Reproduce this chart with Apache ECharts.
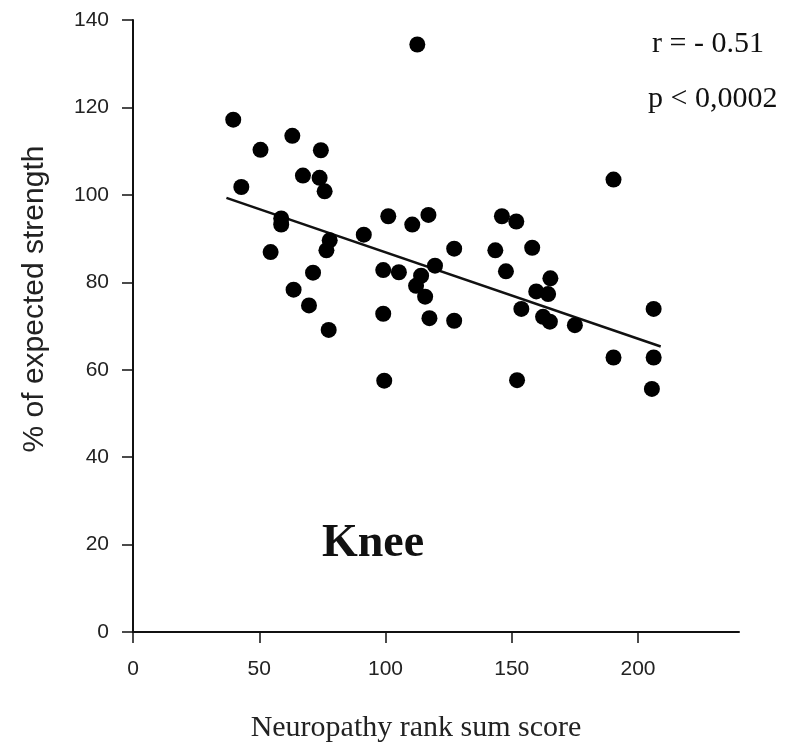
<!DOCTYPE html>
<html>
<head>
<meta charset="utf-8">
<script src="https://cdn.jsdelivr.net/npm/echarts@6/dist/echarts.min.js"></script>
<style>html,body{margin:0;padding:0;background:#fff}#chart{width:796px;height:754px}</style>
</head>
<body>
<div id="chart"></div>
<script>
// Neuropathy rank sum score (x) vs % of expected strength (y)
const scoreX = [39.7,50.5,63.1,74.4,67.3,73.9,75.9,42.9,58.7,58.7,77.9,76.6,54.5,71.3,63.6,69.7,77.5,
  112.6,101.1,110.6,117.0,91.4,127.2,99.1,105.3,119.6,114.1,112.1,115.7,99.1,117.4,127.2,99.5,
  146.1,151.8,143.5,158.1,147.7,153.8,152.1,
  190.3,165.3,159.7,164.4,162.4,165.1,175.0,206.2,190.3,206.2,205.5];
const strengthY = [117.2,110.3,113.5,110.2,104.4,103.9,100.8,101.8,94.6,93.2,89.6,87.3,86.9,82.2,78.3,74.7,69.1,
  134.4,95.1,93.2,95.4,90.9,87.7,82.8,82.3,83.8,81.5,79.2,76.7,72.8,71.8,71.2,57.5,
  95.1,93.9,87.3,87.9,82.5,73.9,57.6,
  103.5,80.9,77.9,77.3,72.1,71.0,70.2,73.9,62.8,62.8,55.6];
const fitX = [37, 209];
const fitY = [99.3, 65.3];
const xTicks = [0, 50, 100, 150, 200];
const yTicks = [0, 20, 40, 60, 80, 100, 120, 140];

const points = scoreX.map((x, i) => [x, strengthY[i]]);
const fitLine = fitX.map((x, i) => [x, fitY[i]]);

const chart = echarts.init(document.getElementById('chart'));
const sans = '"Liberation Sans", Arial, sans-serif';
const serif = '"Liberation Serif", "Times New Roman", serif';
chart.setOption({
  animation: false,
  backgroundColor: '#fff',
  grid: { left: 133, right: 57, top: 20, bottom: 122 },
  xAxis: {
    type: 'value', min: 0, max: 240, interval: 50,
    axisLine: { lineStyle: { color: '#111', width: 2 } },
    axisTick: { length: 11, customValues: xTicks, lineStyle: { color: '#111', width: 1.5 } },
    axisLabel: { color: '#222', fontFamily: sans, fontSize: 21, margin: 27, customValues: xTicks },
    splitLine: { show: false }
  },
  yAxis: {
    type: 'value', min: 0, max: 140, interval: 20,
    axisLine: { lineStyle: { color: '#111', width: 2 } },
    axisTick: { length: 11, customValues: yTicks, lineStyle: { color: '#111', width: 1.5 } },
    axisLabel: { color: '#222', fontFamily: sans, fontSize: 21, margin: 24, customValues: yTicks },
    splitLine: { show: false }
  },
  series: [
    { type: 'scatter', data: points, symbolSize: 16, itemStyle: { color: '#000', opacity: 1 }, z: 3 },
    { type: 'line', data: fitLine, showSymbol: false, symbol: 'none',
      lineStyle: { color: '#111', width: 2.5 }, z: 2 }
  ],
  graphic: [
    { type: 'text', x: 35, y: 299, rotation: Math.PI / 2,
      style: { text: '% of expected strength', font: '30px ' + sans, fill: '#222',
        align: 'center', verticalAlign: 'middle' } },
    { type: 'text', x: 416, y: 728,
      style: { text: 'Neuropathy rank sum score', font: '30px ' + serif, fill: '#222',
        align: 'center', verticalAlign: 'middle' } },
    { type: 'text', left: 322, top: 521,
      style: { text: 'Knee', font: 'bold 46px ' + serif, fill: '#111' } },
    { type: 'text', left: 652, top: 29,
      style: { text: 'r = - 0.51', font: '30px ' + serif, fill: '#111' } },
    { type: 'text', left: 648, top: 84,
      style: { text: 'p < 0,0002', font: '30px ' + serif, fill: '#111' } }
  ]
});
</script>
</body>
</html>
